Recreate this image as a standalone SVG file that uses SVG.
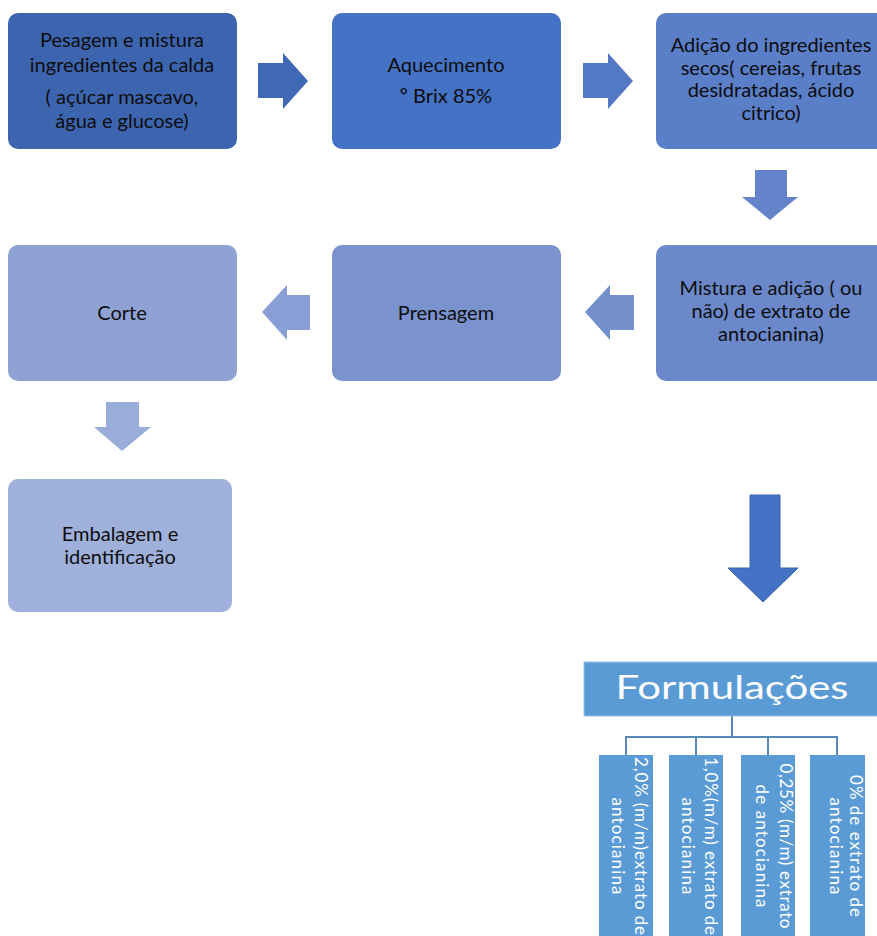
<svg xmlns="http://www.w3.org/2000/svg" width="877" height="936" viewBox="0 0 877 936">
<style>
.t{font-family:Lato,"Liberation Sans",sans-serif;font-size:20px;fill:#0d0d0d;text-anchor:middle}
.w{font-family:Lato,"Liberation Sans",sans-serif;fill:#ffffff;text-anchor:middle}
.r{font-size:17px}
.c{fill:none;stroke:#5A88B8;stroke-width:2}
</style>
<rect width="877" height="936" fill="#ffffff"/>
<g id="connectors">
<polygon points="258,63 283,63 283,53 308,81 283,109 283,98 258,98" fill="#3F68B5"/>
<polygon points="583,63 608,63 608,53 633,81 608,109 608,98 583,98" fill="#5479C4"/>
<polygon points="755,170 787,170 787,197 798,197 770,220 742,197 755,197" fill="#6383CA"/>
<polygon points="634,295 610,295 610,285 585,312 610,340 610,330 634,330" fill="#7390CC"/>
<polygon points="310,295 287,295 287,285 262,312 287,340 287,330 310,330" fill="#899ED4"/>
<polygon points="106,402 139,402 139,427 151,427 122,451 94,427 106,427" fill="#9AACD9"/>
<polygon points="750,495 780,495 780,568 798,568 763,602 728,568 750,568" fill="#4472C4" stroke="#3A63AD" stroke-width="1"/>
<path class="c" d="M732,716 V737 M626,737 H837 M626,736 V755 M696,736 V755 M768,736 V755 M837,736 V755"/>
</g>
<g id="n1">
<rect x="8" y="13" width="229" height="136" rx="10" fill="#3D64AE"/>
<text class="t" x="122" y="47">Pesagem e mistura</text>
<text class="t" x="122" y="72">ingredientes da calda</text>
<text class="t" x="122" y="104">( açúcar mascavo,</text>
<text class="t" x="122" y="128">água e glucose)</text>
</g>
<g id="n2">
<rect x="332" y="13" width="229" height="136" rx="10" fill="#4472C4"/>
<text class="t" x="446" y="72">Aquecimento</text>
<text class="t" x="446" y="103">º Brix 85%</text>
</g>
<g id="n3">
<rect x="656" y="13" width="230" height="136" rx="10" fill="#5A7EC7"/>
<text class="t" x="771" y="52">Adição do ingredientes</text>
<text class="t" x="771" y="75">secos( cereias, frutas</text>
<text class="t" x="771" y="97">desidratadas, ácido</text>
<text class="t" x="771" y="120">citrico)</text>
</g>
<g id="n4">
<rect x="656" y="245" width="230" height="136" rx="10" fill="#6A88CA"/>
<text class="t" x="771" y="295">Mistura e adição ( ou</text>
<text class="t" x="771" y="318">não) de extrato de</text>
<text class="t" x="771" y="341">antocianina)</text>
</g>
<g id="n5">
<rect x="332" y="245" width="229" height="136" rx="10" fill="#7A93CE"/>
<text class="t" x="446" y="320">Prensagem</text>
</g>
<g id="n6">
<rect x="8" y="245" width="229" height="136" rx="10" fill="#8FA2D4"/>
<text class="t" x="122" y="320">Corte</text>
</g>
<g id="n7">
<rect x="8" y="479" width="224" height="133" rx="10" fill="#9FB0DB"/>
<text class="t" x="120" y="541">Embalagem e</text>
<text class="t" x="120" y="564">identificação</text>
</g>
<g id="n8">
<rect x="584" y="662" width="300" height="54" fill="#5B9BD5" stroke="#9CC3E8" stroke-width="1"/>
<text class="w" x="732" y="699" font-size="33" textLength="233" lengthAdjust="spacingAndGlyphs">Formulações</text>
</g>
<g id="n9">
<rect x="599" y="755" width="54" height="190" fill="#5B9BD5"/>
<g transform="translate(626,846) rotate(90)">
<text class="w r" x="0" y="-9" textLength="178">2,0% (m/m)extrato de</text>
<text class="w r" x="0" y="14" textLength="97">antocianina</text>
</g>
</g>
<g id="n10">
<rect x="669" y="755" width="54" height="190" fill="#5B9BD5"/>
<g transform="translate(696,846) rotate(90)">
<text class="w r" x="0" y="-9" textLength="178">1,0%(m/m) extrato de</text>
<text class="w r" x="0" y="14" textLength="97">antocianina</text>
</g>
</g>
<g id="n11">
<rect x="741" y="755" width="54" height="190" fill="#5B9BD5"/>
<g transform="translate(768,846) rotate(90)">
<text class="w r" x="0" y="-12" textLength="165">0,25% (m/m) extrato</text>
<text class="w r" x="0" y="12" textLength="123">de antocianina</text>
</g>
</g>
<g id="n12">
<rect x="810" y="755" width="55" height="190" fill="#5B9BD5"/>
<g transform="translate(837,846) rotate(90)">
<text class="w r" x="0" y="-13" textLength="142">0% de extrato de</text>
<text class="w r" x="0" y="7" textLength="97">antocianina</text>
</g>
</g>
</svg>
